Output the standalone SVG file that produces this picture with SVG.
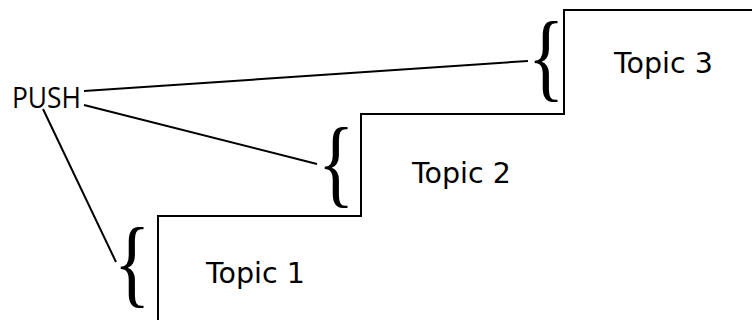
<svg xmlns="http://www.w3.org/2000/svg" width="752" height="322" viewBox="0 0 752 322">
<style>
.ln{stroke:#000;stroke-width:2;fill:none}
.topic{font-family:"DejaVu Sans",Verdana,sans-serif;font-size:28.5px;fill:#000}
.brace{font-family:"Liberation Serif","Times New Roman",serif;font-size:90px;fill:#000}
.push{font-family:"Open Sans","Noto Sans",sans-serif;font-size:29px;fill:#000}
</style>
<rect width="752" height="322" fill="#fff"/>
<g id="stairs">
<path class="ln" d="M158,320 V216 H361 V114 H564 V10 H752"/>
</g>
<g id="push"><text class="push" x="12" y="108" textLength="69" lengthAdjust="spacingAndGlyphs">PUSH</text></g>
<g id="topic1"><text class="topic" x="206" y="283">Topic 1</text><text class="brace" transform="translate(113.75,295.4) scale(0.85,1.07)">{</text></g>
<g id="topic2"><text class="topic" x="412" y="183">Topic 2</text><text class="brace" transform="translate(317.75,195.4) scale(0.85,1.07)">{</text></g>
<g id="topic3"><text class="topic" x="614" y="73">Topic 3</text><text class="brace" transform="translate(527.75,89.4) scale(0.85,1.07)">{</text></g>
<g id="connectors">
<line class="ln" x1="84" y1="91" x2="528" y2="61"/>
<line class="ln" x1="84" y1="105" x2="317" y2="164"/>
<line class="ln" x1="43" y1="109" x2="116" y2="262"/>
</g>
</svg>
